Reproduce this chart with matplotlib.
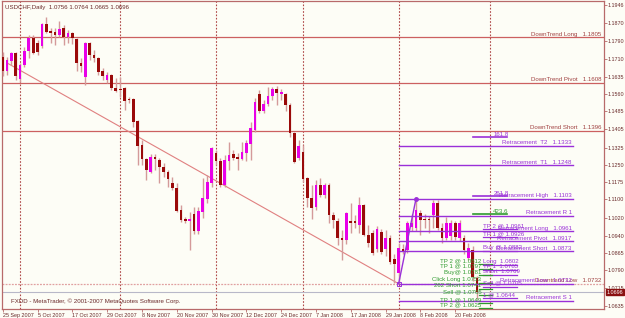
import matplotlib
matplotlib.use("Agg")
import matplotlib.pyplot as plt

plt.rcParams["font.family"] = ["Liberation Sans Narrow", "Liberation Sans", "DejaVu Sans"]

title_text = "USDCHF,Daily  1.0756 1.0764 1.0665 1.0696"
footer_text = "FXDD - MetaTrader, \u00a9 2001-2007 MetaQuotes Software Corp."

# daily OHLC, 25 Sep 2007 .. 27 Feb 2008
opens = [1.1720, 1.1659, 1.1702, 1.1737, 1.1624, 1.1685, 1.1746, 1.1803, 1.1781, 1.1768,
         1.1863, 1.1833, 1.1829, 1.1816, 1.1846, 1.1807, 1.1824, 1.1798, 1.1694, 1.1633,
         1.1781, 1.1728, 1.1715, 1.1659, 1.1620, 1.1641, 1.1585, 1.1580, 1.1585, 1.1537,
         1.1537, 1.1441, 1.1337, 1.1276, 1.1219, 1.1284, 1.1271, 1.1241, 1.1219, 1.1171,
         1.1149, 1.1053, 1.1014, 1.1006, 1.1036, 1.0962, 1.1045, 1.1101, 1.1171, 1.1302,
         1.1267, 1.1162, 1.1267, 1.1297, 1.1284, 1.1276, 1.1302, 1.1341, 1.1402, 1.1559,
         1.1485, 1.1515, 1.1550, 1.1580, 1.1559, 1.1559, 1.1511, 1.1389, 1.1280, 1.1306,
         1.1193, 1.1106, 1.1067, 1.1162, 1.1119, 1.1162, 1.1032, 1.1006, 1.0932, 1.0923,
         1.1006, 1.1006, 1.0988, 1.1075, 1.0945, 1.0953, 1.0884, 1.0958, 1.0884, 1.0932,
         1.0840, 1.0779, 1.0884, 1.0879, 1.0980, 1.0975, 1.1040, 1.1014, 1.1014, 1.1032,
         1.1084, 1.0975, 1.0932, 1.0940, 1.0997, 1.0932, 1.0932, 1.0845, 1.0880, 1.0756]
highs = [1.1742, 1.1720, 1.1742, 1.1742, 1.1694, 1.1763, 1.1816, 1.1816, 1.1794, 1.1868,
         1.1894, 1.1846, 1.1846, 1.1877, 1.1859, 1.1837, 1.1829, 1.1803, 1.1715, 1.1785,
         1.1785, 1.1750, 1.1720, 1.1672, 1.1654, 1.1645, 1.1628, 1.1633, 1.1589, 1.1546,
         1.1541, 1.1445, 1.1358, 1.1280, 1.1297, 1.1297, 1.1280, 1.1258, 1.1228, 1.1197,
         1.1171, 1.1075, 1.1023, 1.1045, 1.1067, 1.1067, 1.1193, 1.1206, 1.1328, 1.1315,
         1.1280, 1.1293, 1.1350, 1.1315, 1.1302, 1.1350, 1.1358, 1.1437, 1.1541, 1.1576,
         1.1533, 1.1589, 1.1589, 1.1593, 1.1580, 1.1563, 1.1519, 1.1393, 1.1358, 1.1337,
         1.1197, 1.1162, 1.1184, 1.1193, 1.1171, 1.1171, 1.1045, 1.1019, 1.0966, 1.1045,
         1.1084, 1.1032, 1.1110, 1.1080, 1.0988, 1.0966, 1.0984, 1.0971, 1.0966, 1.0945,
         1.0862, 1.0910, 1.0905, 1.1006, 1.1036, 1.1103, 1.1053, 1.1036, 1.1027, 1.1097,
         1.1097, 1.0997, 1.1023, 1.1010, 1.1006, 1.1010, 1.0945, 1.0910, 1.0897, 1.0764]
lows = [1.1637, 1.1641, 1.1685, 1.1620, 1.1611, 1.1676, 1.1715, 1.1733, 1.1728, 1.1759,
        1.1824, 1.1781, 1.1772, 1.1807, 1.1772, 1.1781, 1.1776, 1.1659, 1.1654, 1.1598,
        1.1707, 1.1698, 1.1641, 1.1620, 1.1607, 1.1576, 1.1567, 1.1546, 1.1489, 1.1519,
        1.1415, 1.1249, 1.1249, 1.1184, 1.1215, 1.1228, 1.1171, 1.1197, 1.1154, 1.1141,
        1.1045, 1.1001, 1.0997, 1.0879, 1.0949, 1.0949, 1.1019, 1.1084, 1.1154, 1.1249,
        1.1154, 1.1154, 1.1228, 1.1271, 1.1228, 1.1271, 1.1267, 1.1271, 1.1393, 1.1476,
        1.1476, 1.1506, 1.1533, 1.1511, 1.1533, 1.1485, 1.1371, 1.1258, 1.1271, 1.1175,
        1.1067, 1.1014, 1.1053, 1.1110, 1.1106, 1.0997, 1.0975, 1.0901, 1.0836, 1.0905,
        1.0953, 1.0975, 1.0953, 1.0940, 1.0892, 1.0857, 1.0871, 1.0862, 1.0853, 1.0818,
        1.0736, 1.0732, 1.0862, 1.0866, 1.0962, 1.0962, 1.0945, 1.0975, 1.0953, 1.0975,
        1.0966, 1.0910, 1.0923, 1.0923, 1.0923, 1.0918, 1.0862, 1.0836, 1.0745, 1.0665]
closes = [1.1659, 1.1707, 1.1737, 1.1637, 1.1685, 1.1746, 1.1803, 1.1737, 1.1742, 1.1863,
          1.1829, 1.1824, 1.1816, 1.1842, 1.1807, 1.1824, 1.1803, 1.1694, 1.1681, 1.1781,
          1.1728, 1.1715, 1.1654, 1.1637, 1.1641, 1.1585, 1.1572, 1.1576, 1.1528, 1.1533,
          1.1437, 1.1332, 1.1276, 1.1228, 1.1284, 1.1276, 1.1241, 1.1219, 1.1188, 1.1149,
          1.1049, 1.1010, 1.1006, 1.1014, 1.0962, 1.1049, 1.1106, 1.1175, 1.1323, 1.1267,
          1.1162, 1.1271, 1.1293, 1.1280, 1.1276, 1.1306, 1.1345, 1.1411, 1.1524, 1.1485,
          1.1515, 1.1550, 1.1580, 1.1563, 1.1567, 1.1511, 1.1389, 1.1263, 1.1332, 1.1188,
          1.1106, 1.1062, 1.1162, 1.1119, 1.1162, 1.1032, 1.1010, 1.0932, 1.0923, 1.1040,
          1.0997, 1.0997, 1.1075, 1.0945, 1.0910, 1.0866, 1.0971, 1.0871, 1.0932, 1.0827,
          1.0818, 1.0888, 1.0875, 1.0997, 1.0997, 1.1053, 1.1010, 1.1010, 1.1010, 1.1084,
          1.0975, 1.0932, 1.0997, 1.0997, 1.0936, 1.0997, 1.0879, 1.0888, 1.0760, 1.0696]

date_labels = ["25 Sep 2007", "5 Oct 2007", "17 Oct 2007", "29 Oct 2007", "8 Nov 2007",
               "20 Nov 2007", "30 Nov 2007", "12 Dec 2007", "24 Dec 2007", "7 Jan 2008",
               "17 Jan 2008", "29 Jan 2008", "8 Feb 2008", "20 Feb 2008"]
date_bars = [0, 8, 16, 24, 32, 40, 48, 56, 64, 72, 80, 88, 96, 104]
separator_bars = [4, 27, 49, 69, 91, 112]
price_ticks = [1.1946, 1.1870, 1.1790, 1.1710, 1.1635, 1.1560, 1.1485, 1.1405, 1.1325,
               1.1250, 1.1175, 1.1100, 1.1020, 1.0940, 1.0865, 1.0790, 1.0715, 1.0635]
last_price = 1.0696

downtrend_names = ["DownTrend Long", "DownTrend Pivot", "DownTrend Short"]
downtrend_levels = [1.1805, 1.1608, 1.1396]
downtrend_low = 1.0732
trend_start = (1, 1.1694)
trend_end = (91, 1.0732)

retr_names = ["Retracement  T2   1.1333", "Retracement  T1   1.1248", "Retracement High   1.1103",
              "Retracement R 1", "Retracement Long   1.0961", "Retracement Pivot   1.0917",
              "Retracement Short   1.0873", "Retracement Low   1.0732", "Retracement S 1"]
retr_levels = [1.1333, 1.1248, 1.1103, 1.1027, 1.0961, 1.0917, 1.0873, 1.0732, 1.0657]
retr_low = (91, 1.0732)
retr_high = (95, 1.1103)

fib_names = ["161.8", "261.8", "423.6"]
fib_levels = [1.1371, 1.1114, 1.1036]

purple_notes = ["TP 2 @ 1.0961", "TP 1 @ 1.0926", "Buy @ 1.0882", "Long  1.0802",
                "TP 1  1.0785", "Short  1.0769", "Sell @ 1.0705", "1 @ 1.0644"]
purple_note_levels = [1.0975, 1.0940, 1.0879, 1.0819, 1.0797, 1.0775, 1.0723, 1.0675]
green_notes = ["TP 2 @ 1.0812", "TP 1 @ 1.0797", "Buy@ 1.0781", "Click Long 1.0753",
               "262 Short 1.0741", "Sell @ 1.0705", "TP 1 @ 1.0649", "TP 2 @ 1.0625"]
green_note_levels = [1.0823, 1.0801, 1.0771, 1.0740, 1.0714, 1.0684, 1.0653, 1.0631]

BULL = "#e800e8"
BEAR = "#9a0a0a"
WICK = "#d49a9a"
FRAME = "#b86a6a"
RED = "#cc6060"
PURPLE = "#9a30d8"
GREEN = "#2e9a2e"
TXT = "#6a2a2a"
BG = "#fdfdf6"
FS = 4.4
TFS = 3.9

fig = plt.figure(figsize=(6.25, 3.18), dpi=100, facecolor=BG)
ax = fig.add_axes([2 / 625, 9 / 318, 602 / 625, 308 / 318], facecolor=BG)

n = len(opens)
xs = list(range(n))

# candles
ax.vlines(xs, lows, highs, color=WICK, lw=1.0, zorder=3)
for i in xs:
    o, c = opens[i], closes[i]
    bottom = min(o, c)
    h = max(abs(c - o), 0.0005)
    ax.bar(i, h, bottom=bottom, width=0.62, color=BULL if c > o else BEAR,
           lw=0, zorder=4)

# separators
for b in separator_bars:
    ax.axvline(b, color="#b04848", lw=0.8, ls=(0, (1.5, 1.5)), zorder=1)

# downtrend levels
for name, lvl in zip(downtrend_names, downtrend_levels):
    ax.axhline(lvl, color=RED, lw=0.9, zorder=2)
    ax.text(137.6, lvl + 0.0004, name + "   %.4f" % lvl, ha="right", va="bottom",
            fontsize=FS, color="#a04040", zorder=6)
ax.axhline(downtrend_low, color="#e0a0a0", lw=0.9, ls=(0, (1.5, 1)), zorder=2)
ax.text(137.6, downtrend_low + 0.0004, "Downtrend Low   %.4f" % downtrend_low, ha="right",
        va="bottom", fontsize=FS, color="#a04040", zorder=6)
ax.plot([trend_start[0], trend_end[0]], [trend_start[1], trend_end[1]], color="#e08080",
        lw=0.8, zorder=2)

# current price
ax.axhline(last_price, color="#b8b8c8", lw=0.8, zorder=2)

# retracement
for name, lvl in zip(retr_names, retr_levels):
    ax.plot([91, 131], [lvl, lvl], color=PURPLE, lw=1.0, zorder=5)
    ax.text(130.8, lvl + 0.0003, name, ha="right", va="bottom", fontsize=FS,
            color=PURPLE, zorder=6)
ax.plot([retr_low[0], retr_high[0]], [retr_low[1], retr_high[1]], color=PURPLE, lw=1.0, zorder=5)
ax.plot([retr_low[0]], [retr_low[1]], marker="s", ms=2.5, mfc="none", mec=PURPLE, mew=0.7, zorder=6)
ax.plot([retr_high[0]], [retr_high[1]], marker="o", ms=2.5, color=PURPLE, zorder=6)

for name, lvl in zip(fib_names, fib_levels):
    col = GREEN if name == "423.6" else PURPLE
    ax.plot([108.2, 116], [lvl, lvl], color=col, lw=1.2, zorder=5)
    ax.text(116.3, lvl + 0.0002, name, ha="right", va="bottom", fontsize=FS, color=col, zorder=6)

for name, lvl in zip(purple_notes, purple_note_levels):
    ax.plot([110.5, 118.2], [lvl - 0.0006, lvl - 0.0006], color=PURPLE, lw=0.9, zorder=5)
    ax.text(110.3, lvl, name, ha="left", va="bottom", fontsize=FS, color=PURPLE, zorder=6)
for name, lvl in zip(green_notes, green_note_levels):
    ax.plot([109.5, 112.5], [lvl - 0.0003, lvl - 0.0003], color=GREEN, lw=0.9, zorder=5)
    ax.text(110.0, lvl, name, ha="right", va="bottom", fontsize=FS, color=GREEN, zorder=6)

ax.set_xlim(-0.16, 138.2)
ax.set_ylim(1.0622, 1.1964)

ax.yaxis.tick_right()
ax.set_yticks(price_ticks)
ax.set_yticklabels(["%.4f" % t for t in price_ticks])
ax.set_xticks(date_bars)
ax.set_xticklabels(date_labels, ha="left")
ax.tick_params(axis="both", labelsize=TFS, colors=FRAME, labelcolor=TXT, length=2, width=0.6, pad=0.8)
for s in ax.spines.values():
    s.set_color(FRAME)
    s.set_linewidth(0.9)

ax.text(2.2 / 4.35, 1.1935, title_text, fontsize=FS, color=TXT, va="center", ha="left")
ax.text(8 / 4.35, 1.0656, footer_text, fontsize=FS, color=TXT, va="center", ha="left")
ax.text(1.004, (last_price - 1.0622) / (1.1964 - 1.0622), "%.4f" % last_price, transform=ax.transAxes,
        fontsize=TFS, color="white", va="center", ha="left",
        bbox=dict(boxstyle="square,pad=0.1", fc="#8a1010", ec="#8a1010"))

fig.savefig("out.png", dpi=100, facecolor=BG)
